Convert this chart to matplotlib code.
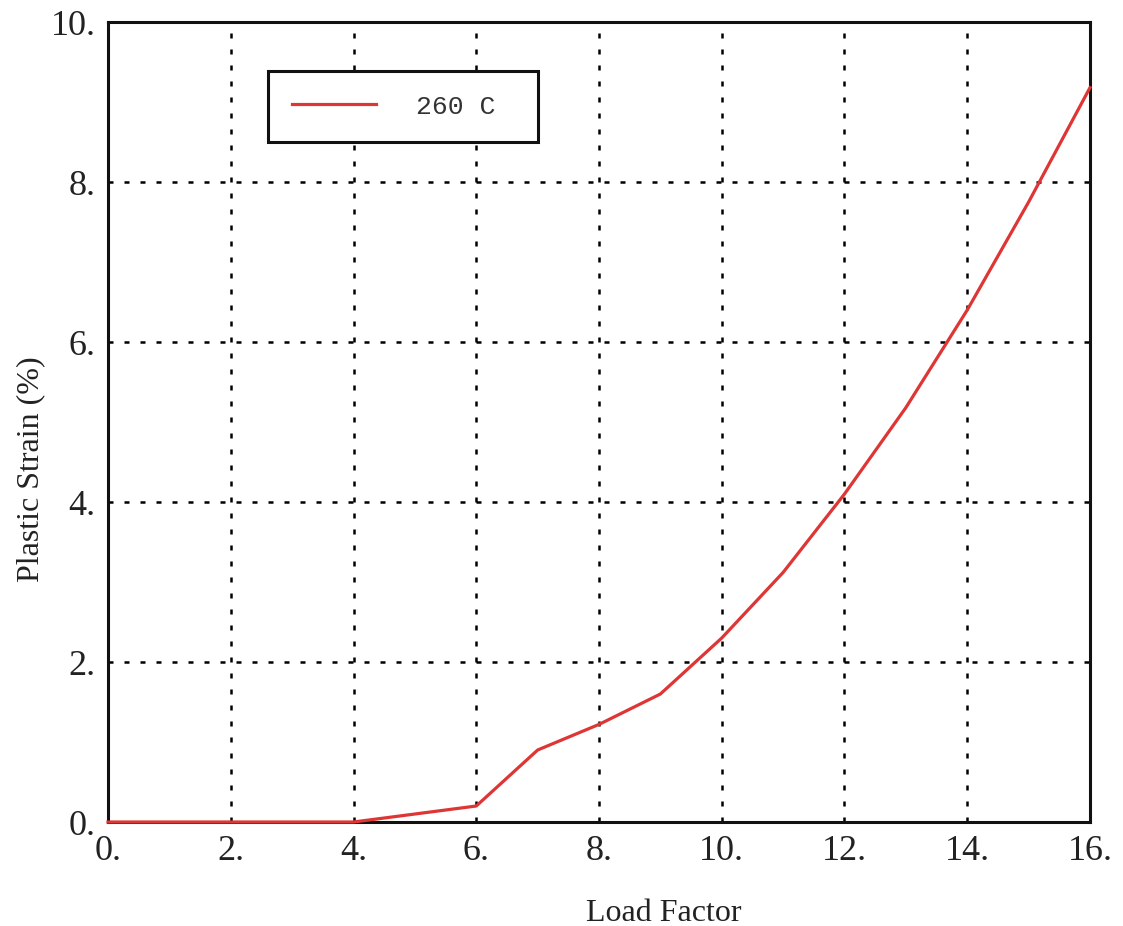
import matplotlib
matplotlib.use("Agg")
import matplotlib.pyplot as plt
from matplotlib.ticker import FuncFormatter, MultipleLocator

# data
load_factor = [0, 1, 2, 3, 4, 5, 6, 7, 8, 9, 10, 11, 12, 13, 14, 15, 16]
plastic_strain = [0.0, 0.0, 0.0, 0.0, 0.0, 0.1, 0.2, 0.9, 1.22, 1.6, 2.3,
                  3.12, 4.1, 5.18, 6.4, 7.75, 9.18]
series_label = "260 C"

fig = plt.figure(figsize=(11.23, 9.26), dpi=100)
ax = fig.add_axes([0.0962, 0.1123, 0.8744, 0.8639])

ax.plot(load_factor, plastic_strain, color="#de3535", linewidth=2.3,
        label=series_label, clip_on=False, zorder=5)

ax.set_xlim(0, 16)
ax.set_ylim(0, 10)
ax.xaxis.set_major_locator(MultipleLocator(2))
ax.yaxis.set_major_locator(MultipleLocator(2))
fmt = FuncFormatter(lambda v, pos: f"{int(round(v))}.")
ax.xaxis.set_major_formatter(fmt)
ax.yaxis.set_major_formatter(fmt)

ax.grid(True, color="black", linewidth=1.8, linestyle=(0, (2, 4.4)))
ax.tick_params(length=0, labelsize=26, pad=9, labelcolor="#222222")
for lab in ax.get_xticklabels() + ax.get_yticklabels():
    lab.set_fontfamily("Liberation Serif")

for sp in ax.spines.values():
    sp.set_linewidth(2.2)
    sp.set_color("#111111")

ax.set_xlabel("Load Factor", fontsize=23, family="Liberation Serif",
              color="#222222")
ax.set_ylabel("Plastic Strain (%)", fontsize=23, family="Liberation Serif",
              color="#222222")
ax.xaxis.set_label_coords(0.566, -0.096)
ax.yaxis.set_label_coords(-0.064, 0.441)

# legend box: fixed width, content left-aligned
leg = ax.legend(loc="upper left", bbox_to_anchor=(0.163, 0.849, 0.275, 0.09),
                mode="expand", borderaxespad=0, frameon=True, fancybox=False,
                prop={"family": "Liberation Mono", "size": 19},
                handlelength=3.2, handletextpad=1.5, borderpad=0.9)
leg.get_frame().set_edgecolor("#111111")
leg.get_frame().set_linewidth(2.2)
leg.get_frame().set_alpha(1)
for t in leg.get_texts():
    t.set_color("#333333")

fig.savefig("out.png", dpi=100)
